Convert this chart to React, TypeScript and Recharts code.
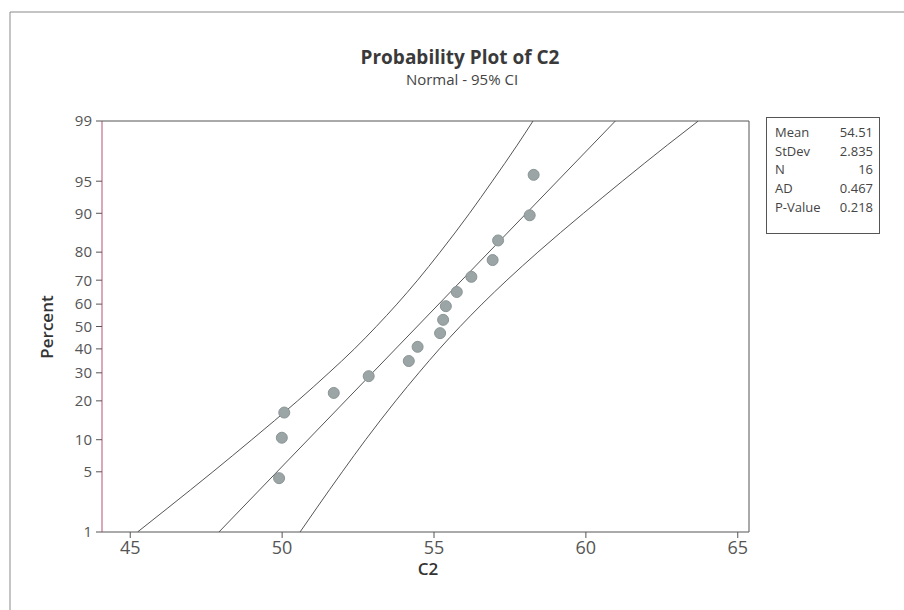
import React from "react";
import {
  ComposedChart,
  XAxis,
  YAxis,
  Line,
  Scatter,
} from "recharts";

// sample C2, sorted, with plotting positions (%)
const POINT_X = [
  49.9, 49.99, 50.07, 51.7, 52.85, 54.17, 54.46, 55.2,
  55.3, 55.39, 55.75, 56.23, 56.93, 57.11, 58.15, 58.28,
];
const POINT_PCT = [
  4.3, 10.4, 16.5, 22.6, 28.7, 34.8, 40.9, 47.0,
  53.0, 59.1, 65.2, 71.3, 77.4, 83.5, 89.6, 95.7,
];

// fitted line and 95% CI bands
const FIT_PCT = [1, 99];
const FIT_X = [47.92, 60.97];
const CI_PCT = [1, 2, 5, 10, 20, 30, 40, 50, 60, 70, 80, 90, 95, 98, 99];
const CI_LOWER = [
  45.24, 46.24, 47.72, 49.0, 50.51, 51.54, 52.38, 53.1,
  53.78, 54.46, 55.2, 56.17, 56.92, 57.74, 58.26,
];
const CI_UPPER = [
  50.59, 51.14, 51.98, 52.75, 53.74, 54.5, 55.18, 55.86,
  56.58, 57.4, 58.42, 59.92, 61.2, 62.68, 63.7,
];

const X_TICKS = [45, 50, 55, 60, 65];
const Y_TICK_PCT = [1, 5, 10, 20, 30, 40, 50, 60, 70, 80, 90, 95, 99];

const STATS_LABELS = ["Mean", "StDev", "N", "AD", "P-Value"];
const STATS_VALUES = ["54.51", "2.835", "16", "0.467", "0.218"];

const FONT = "'Open Sans', 'DejaVu Sans', sans-serif";

// inverse normal cdf, used as the probability axis transform
function probit(p: number) {
  const a = [-39.69683028665376, 220.9460984245205, -275.9285104469687, 138.357751867269, -30.66479806614716, 2.506628277459239];
  const b = [-54.47609879822406, 161.5858368580409, -155.6989798598866, 66.80131188771972, -13.28068155288572];
  const c = [-0.007784894002430293, -0.3223964580411365, -2.400758277161838, -2.549732539343734, 4.374664141464968, 2.938163982698783];
  const d = [0.007784695709041462, 0.3224671290700398, 2.445134137142996, 3.754408661907416];
  const lo = 0.02425;
  if (p < lo || p > 1 - lo) {
    const q = Math.sqrt(-2 * Math.log(p < lo ? p : 1 - p));
    const v =
      (((((c[0] * q + c[1]) * q + c[2]) * q + c[3]) * q + c[4]) * q + c[5]) /
      ((((d[0] * q + d[1]) * q + d[2]) * q + d[3]) * q + 1);
    return p < lo ? v : -v;
  }
  const q = p - 0.5;
  const r = q * q;
  return (
    ((((((a[0] * r + a[1]) * r + a[2]) * r + a[3]) * r + a[4]) * r + a[5]) * q) /
    (((((b[0] * r + b[1]) * r + b[2]) * r + b[3]) * r + b[4]) * r + 1)
  );
}

const toRows = (xs: number[], pcts: number[]) =>
  xs.map((x, i) => ({ x, z: probit(pcts[i] / 100) }));

const points = toRows(POINT_X, POINT_PCT);
const fitLine = toRows(FIT_X, FIT_PCT);
const lowerBand = toRows(CI_LOWER, CI_PCT);
const upperBand = toRows(CI_UPPER, CI_PCT);
const yTicks = Y_TICK_PCT.map((p) => probit(p / 100));
const zMin = probit(0.01);
const zMax = probit(0.99);

const fmtPct = (v: number) => {
  let best = 0;
  yTicks.forEach((t, i) => {
    if (Math.abs(t - v) < Math.abs(yTicks[best] - v)) best = i;
  });
  return String(Y_TICK_PCT[best]);
};

const W = 904;
const H = 610;
const M = { top: 121, right: 155, bottom: 28, left: 62 };
const PLOT = { x: 102, y: 121, w: W - 155 - 102, h: H - 28 - 50 - 121 };

export default function App() {
  return (
    <div style={{ position: "fixed", left: 0, top: 0, width: W, height: H, background: "#fff" }}>
      <ComposedChart width={W} height={H} margin={M}>
        <XAxis
          type="number"
          dataKey="x"
          domain={[44.07, 65.37]}
          ticks={X_TICKS}
          allowDataOverflow
          height={50}
          tickSize={6}
          tickMargin={3}
          axisLine={{ stroke: "#555" }}
          tickLine={{ stroke: "#555" }}
          tick={{ fontSize: 18, fill: "#555", fontFamily: FONT }}
        />
        <YAxis
          type="number"
          dataKey="z"
          domain={[zMin, zMax]}
          ticks={yTicks}
          allowDataOverflow
          width={40}
          tickSize={6}
          tickMargin={4}
          tickFormatter={fmtPct}
          axisLine={{ stroke: "#b9506e" }}
          tickLine={{ stroke: "#555" }}
          tick={{ fontSize: 15, fill: "#555", fontFamily: FONT }}
        />
        <Line data={lowerBand} dataKey="z" type="monotone" stroke="#555" strokeWidth={1} dot={false} isAnimationActive={false} />
        <Line data={upperBand} dataKey="z" type="monotone" stroke="#555" strokeWidth={1} dot={false} isAnimationActive={false} />
        <Line data={fitLine} dataKey="z" type="linear" stroke="#555" strokeWidth={1} dot={false} isAnimationActive={false} />
        <Scatter
          data={points}
          dataKey="z"
          isAnimationActive={false}
          shape={(p: any) => (
            <circle cx={p.cx} cy={p.cy} r={5.5} fill="#9ba5a5" stroke="#8a9595" strokeWidth={1} />
          )}
        />
      </ComposedChart>
      <svg width={W} height={H} style={{ position: "absolute", left: 0, top: 0, pointerEvents: "none" }}>
        {/* outer frame (only left and top visible) */}
        <line x1={10} y1={12} x2={W} y2={12} stroke="#8a8a8a" />
        <line x1={10} y1={12} x2={10} y2={H} stroke="#8a8a8a" />
        {/* plot frame top / right */}
        <line x1={PLOT.x} y1={PLOT.y} x2={PLOT.x + PLOT.w} y2={PLOT.y} stroke="#555" />
        <line x1={PLOT.x + PLOT.w} y1={PLOT.y} x2={PLOT.x + PLOT.w} y2={PLOT.y + PLOT.h} stroke="#555" />
        <text x={460} y={64} textAnchor="middle" fontFamily={FONT} fontWeight={700} fontSize={19} fill="#3a3a3a">
          Probability Plot of C2
        </text>
        <text x={462} y={85} textAnchor="middle" fontFamily={FONT} fontSize={15} fill="#444">
          Normal - 95% CI
        </text>
        <text x={428} y={575} textAnchor="middle" fontFamily={FONT} fontWeight={600} fontSize={17} fill="#333">
          C2
        </text>
        <text
          x={53}
          y={327}
          textAnchor="middle"
          transform="rotate(-90 53 327)"
          fontFamily={FONT}
          fontWeight={600}
          fontSize={17}
          fill="#333"
        >
          Percent
        </text>
        <rect x={766.5} y={117.5} width={113} height={116} fill="#fff" stroke="#555" />
        {STATS_LABELS.map((s, i) => (
          <text key={s} x={775} y={137 + i * 18.7} fontFamily={FONT} fontSize={13} fill="#444">
            {s}
          </text>
        ))}
        {STATS_VALUES.map((s, i) => (
          <text key={i} x={873} y={137 + i * 18.7} textAnchor="end" fontFamily={FONT} fontSize={13} fill="#444">
            {s}
          </text>
        ))}
      </svg>
    </div>
  );
}
